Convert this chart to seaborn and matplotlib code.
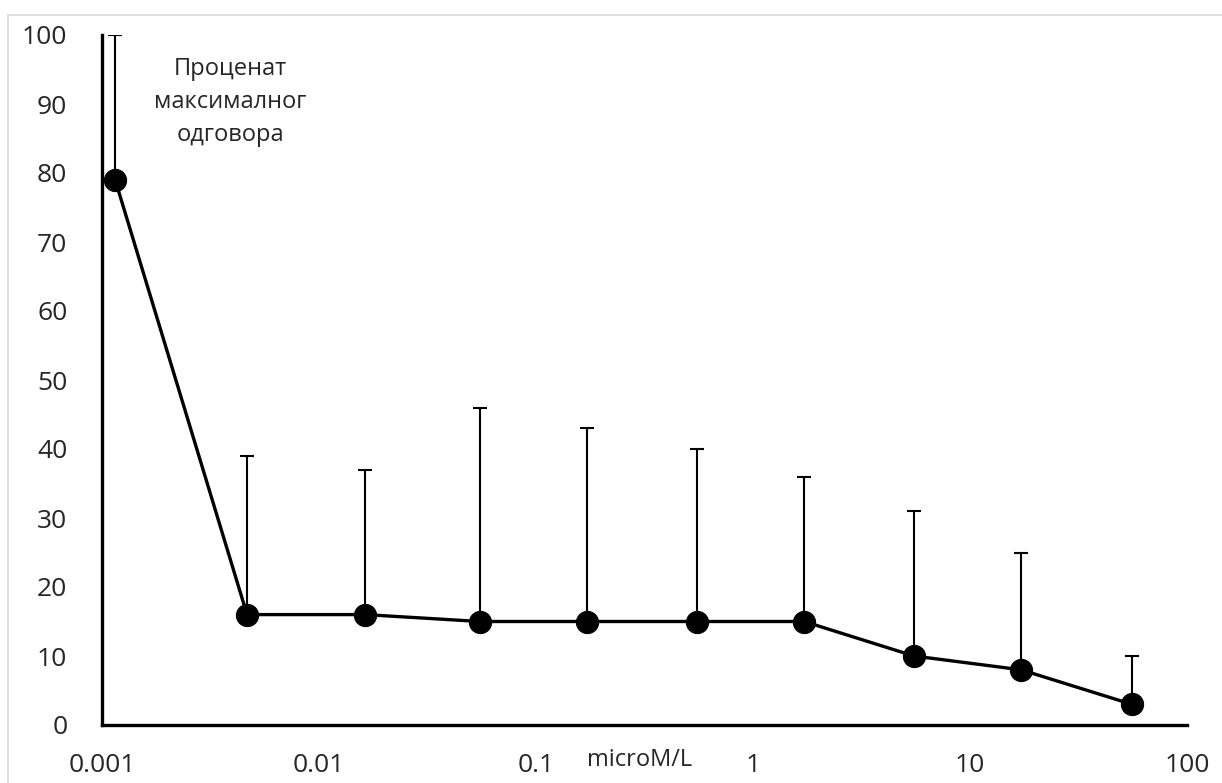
import numpy as np
import pandas as pd
import matplotlib
matplotlib.use("Agg")
import matplotlib.pyplot as plt
import seaborn as sns
from matplotlib.patches import Rectangle

# Data
conc = [0.00115, 0.00466, 0.0163, 0.0552, 0.172, 0.552, 1.72, 5.52, 17.2, 55.7]
response = [79, 16, 16, 15, 15, 15, 15, 10, 8, 3]
upper = [100, 39, 37, 46, 43, 40, 36, 31, 25, 10]
xticks = [0.001, 0.01, 0.1, 1, 10, 100]
xtick_labels = ["0.001", "0.01", "0.1", "1", "10", "100"]
yticks = list(range(0, 101, 10))
annotation = "Проценат\nмаксималног\nодговора"
xlabel = "microM/L"

sns.set_theme(style="white")
plt.rcParams['font.family'] = ['Open Sans', 'DejaVu Sans']

df = pd.DataFrame({"conc": conc, "response": response, "upper": upper})

fig = plt.figure(figsize=(12.22, 7.83), dpi=100)
ax = fig.add_axes([102/1222, 58/783, (1187-102)/1222, (725-35)/783])

err_up = np.array(upper) - np.array(response)
ax.errorbar(df["conc"], df["response"], yerr=[np.zeros_like(err_up), err_up],
            fmt="none", ecolor="black", elinewidth=1.5, capsize=5, capthick=1.5, zorder=2)
sns.lineplot(data=df, x="conc", y="response", ax=ax, color="black", linewidth=2.4,
             marker="o", markersize=16, markeredgecolor="black", markerfacecolor="black",
             zorder=3)

ax.set_xscale("log")
ax.set_xlim(0.001, 100)
ax.set_ylim(0, 100)
ax.set_xticks(xticks)
ax.set_xticklabels(xtick_labels)
ax.xaxis.set_minor_locator(matplotlib.ticker.NullLocator())
ax.set_yticks(yticks)
ax.tick_params(axis="both", length=0, labelsize=19, colors="#262626")
ax.tick_params(axis="y", pad=25)
ax.tick_params(axis="x", pad=20)
ax.set_xlabel("")
ax.set_ylabel("")

for s in ["top", "right"]:
    ax.spines[s].set_visible(False)
for s in ["left", "bottom"]:
    ax.spines[s].set_color("black")
    ax.spines[s].set_linewidth(2.4)

ax.text(230/1222, 1 - 102/783, annotation, transform=fig.transFigure,
        ha="center", va="center", fontsize=17, color="#262626", linespacing=1.5)
ax.text(640/1222, 1 - 760/783, xlabel, transform=fig.transFigure,
        ha="center", va="center", fontsize=17, color="#262626")

fig.patches.append(Rectangle((8/1222, -0.1), 1.2, (783-15)/783 + 0.1,
                             transform=fig.transFigure, fill=False,
                             edgecolor="#d9d9d9", linewidth=1.2))

fig.savefig("out.png", dpi=100)
